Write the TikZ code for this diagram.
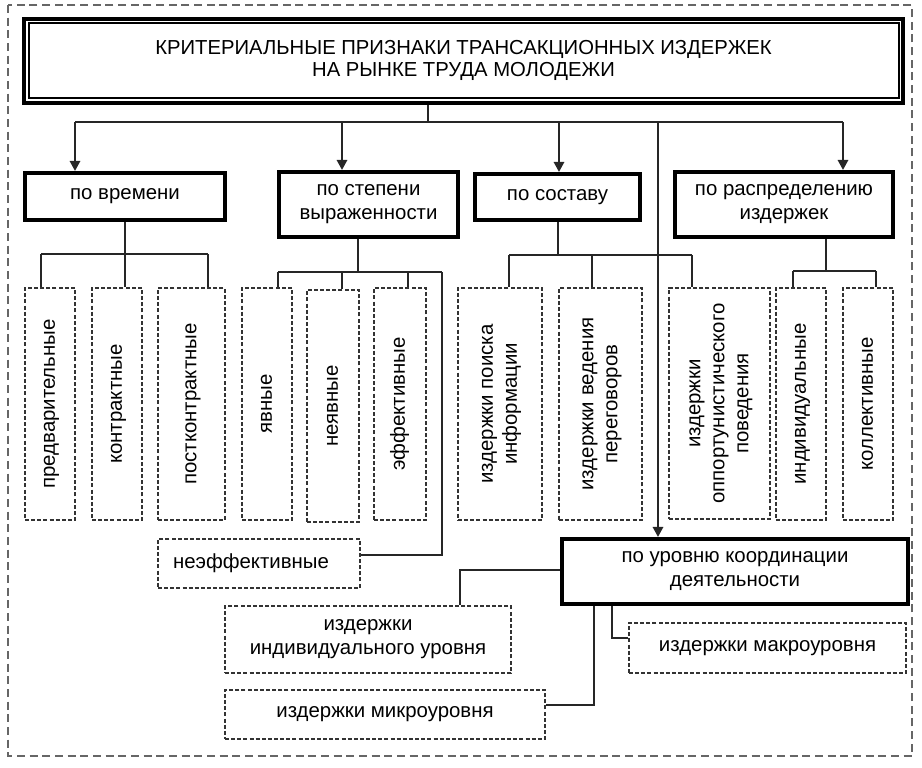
\documentclass[tikz,border=0pt]{standalone}
\usepackage{fontspec}
\setmainfont{Liberation Sans}
\usetikzlibrary{arrows.meta}
\begin{document}
\begin{tikzpicture}[x=0.75pt,y=-0.75pt,
  txt/.style={font=\fontsize{15.3}{18}\selectfont},
  thickbox/.style={draw=black, line width=3.2pt, inner sep=0pt, align=center, txt},
  dbox/.style={draw=black!80, line width=0.8pt, dash pattern=on 3pt off 1.6pt, inner sep=0pt, align=center, txt},
  conn/.style={draw=black!85, line width=0.9pt},
  arr/.style={conn, -{Triangle[length=7.5pt,width=8pt]}},
  frame/.style={draw=black!60, line width=0.8pt, dash pattern=on 6pt off 3.5pt}
]
\useasboundingbox (0,0) rectangle (922,768);
\draw[frame] (8,5) rectangle (912,756);

% title
\node[draw=black, line width=3pt, inner sep=0pt, minimum width=659.25pt, minimum height=63pt,
      font=\fontsize{15.2}{16.5}\selectfont, align=center] (title) at (463.5,61)
  {\raisebox{3.5pt}{\begin{tabular}{@{}c@{}}КРИТЕРИАЛЬНЫЕ ПРИЗНАКИ ТРАНСАКЦИОННЫХ ИЗДЕРЖЕК\\НА РЫНКЕ ТРУДА МОЛОДЕЖИ\end{tabular}}};
\draw[line width=1pt] (29,23) rectangle (899,98);

% criteria boxes
\node[thickbox, minimum width=150pt, minimum height=35.25pt] (vrem) at (125,196.5) {по времени};
\node[thickbox, minimum width=134.25pt, minimum height=48.75pt] (stepen) at (368.5,204.5) {по степени\\выраженности};
\node[thickbox, minimum width=123.75pt, minimum height=34.5pt] (sostav) at (557.5,197) {по составу};
\node[thickbox, minimum width=163.5pt, minimum height=48.75pt] (raspr) at (784,204.5) {по распределению\\издержек};
\node[thickbox, minimum width=259.5pt, minimum height=48.75pt] (coord) at (735,571.5) {по уровню координации\\деятельности};

% vertical dashed boxes
\newcommand\vt[1]{\rotatebox{90}{\begin{tabular}{@{}c@{}}#1\end{tabular}}}
\node[dbox, minimum width=37.5pt, minimum height=174pt] (pred) at (50,404) {\vt{предварительные}};
\node[dbox, minimum width=37.5pt, minimum height=174pt] (kontr) at (117,404) {\vt{контрактные}};
\node[dbox, minimum width=50.25pt, minimum height=174pt] (postk) at (191.5,404) {\vt{постконтрактные}};
\node[dbox, minimum width=37.5pt, minimum height=174pt] (yav) at (267,404) {\vt{явные}};
\node[dbox, minimum width=39pt, minimum height=174pt] (neyav) at (333,406) {\vt{неявные}};
\node[dbox, minimum width=39pt, minimum height=174pt] (eff) at (400,404) {\vt{эффективные}};
\node[dbox, minimum width=63pt, minimum height=174pt] (poisk) at (500,404) {\vt{издержки поиска\\информации}};
\node[dbox, minimum width=62.25pt, minimum height=174pt] (peregov) at (600.5,404) {\vt{издержки ведения\\переговоров}};
\node[dbox, minimum width=75.75pt, minimum height=173.25pt] (opport) at (719.5,403.5) {\vt{издержки\\оппортунистического\\поведения}};
\node[dbox, minimum width=37.5pt, minimum height=174pt] (indiv) at (801,404) {\vt{индивидуальные}};
\node[dbox, minimum width=37.5pt, minimum height=174pt] (koll) at (868,404) {\vt{коллективные}};

% horizontal dashed boxes
\node[dbox, minimum width=151.5pt, minimum height=36.75pt] (neeff) at (259,563.5) {неэффективные\hspace*{12pt}};
\node[dbox, minimum width=214.5pt, minimum height=50.25pt] (indlev) at (368,639.5) {издержки\\индивидуального уровня};
\node[dbox, minimum width=240pt, minimum height=36.75pt] (micro) at (385,714.5) {издержки микроуровня};
\node[dbox, minimum width=207.75pt, minimum height=37.5pt] (macro) at (767.5,648) {издержки макроуровня};

% main bus
\coordinate (tb) at (428,122);
\coordinate (busL) at (75,122);
\coordinate (busR) at (843,122);
\coordinate (a2) at (342,122);
\coordinate (a3) at (559,122);
\coordinate (a5) at (658,122);
\draw[conn] (title.south -| tb) -- (tb);
\draw[conn] (busL) -- (busR);
\draw[arr] (busL) -- (busL |- vrem.north);
\draw[arr] (a2) -- (a2 |- stepen.north);
\draw[arr] (a3) -- (a3 |- sostav.north);
\draw[arr] (busR) -- (busR |- raspr.north);
\draw[arr] (a5) -- (a5 |- coord.north);

% po vremeni
\coordinate (v0) at (125,254);
\coordinate (vL) at (41,254);
\coordinate (vR) at (208,254);
\draw[conn] (vrem.south) -- (v0);
\draw[conn] (vL) -- (vR);
\draw[conn] (vL) -- (vL |- pred.north);
\draw[conn] (v0) -- (v0 |- kontr.north);
\draw[conn] (vR) -- (vR |- postk.north);

% po stepeni
\coordinate (s0) at (358,272);
\coordinate (sL) at (278,272);
\coordinate (s2) at (342,272);
\coordinate (s3) at (408,272);
\coordinate (sR) at (442,272);
\coordinate (sE) at (442,555);
\draw[conn] (s0 |- stepen.south) -- (s0);
\draw[conn] (sL) -- (sR);
\draw[conn] (sL) -- (sL |- yav.north);
\draw[conn] (s2) -- (s2 |- neyav.north);
\draw[conn] (s3) -- (s3 |- eff.north);
\draw[conn] (sR) -- (sE) -- (sE -| neeff.east);

% po sostavu
\coordinate (c0) at (558,255);
\coordinate (cL) at (509,255);
\coordinate (c2) at (592,255);
\coordinate (cR) at (692,255);
\draw[conn] (c0 |- sostav.south) -- (c0);
\draw[conn] (cL) -- (cR);
\draw[conn] (cL) -- (cL |- poisk.north);
\draw[conn] (c2) -- (c2 |- peregov.north);
\draw[conn] (cR) -- (cR |- opport.north);

% po raspredeleniyu
\coordinate (r0) at (826,271);
\coordinate (rL) at (793,271);
\coordinate (rR) at (876,271);
\draw[conn] (r0 |- raspr.south) -- (r0);
\draw[conn] (rL) -- (rR);
\draw[conn] (rL) -- (rL |- indiv.north);
\draw[conn] (rR) -- (rR |- koll.north);

% po urovnyu koordinacii
\coordinate (k1) at (460,570);
\coordinate (k2) at (594,705);
\coordinate (k3) at (612,638);
\draw[conn] (k1 -| coord.west) -- (k1) -- (k1 |- indlev.north);
\draw[conn] (k2 |- coord.south) -- (k2) -- (k2 -| micro.east);
\draw[conn] (k3 |- coord.south) -- (k3) -- (k3 -| macro.west);
\end{tikzpicture}
\end{document}
